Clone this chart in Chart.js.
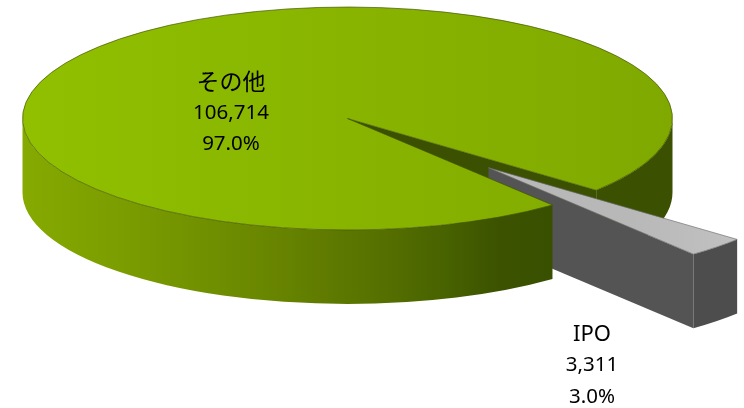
<!DOCTYPE html>
<html lang="ja">
<head>
<meta charset="utf-8">
<title>その他 / IPO</title>
<style>
  html, body { margin: 0; padding: 0; background: #fff; overflow: hidden; }
  canvas { display: block; }
</style>
<script src="https://cdn.jsdelivr.net/npm/chart.js@4"></script>
</head>
<body>
<canvas id="pie" width="744" height="408"></canvas>
<script>
// Data
const categories = ['その他', 'IPO'];
const amounts = [106714, 3311];
const amountLabels = ['106,714', '3,311'];
const shareLabels = ['97.0%', '3.0%'];

// Tilted-disc view
const CENTER_Y = 118.5;
const RADIUS = 325;
const TILT = 0.343;
const DEPTH = 74;
const EXPLODE = 201;
const ROTATION = 140.9;

const canvas = document.getElementById('pie');
const g = canvas.getContext('2d');

function hGradient(x0, x1, stops) {
  const grad = g.createLinearGradient(x0, 0, x1, 0);
  stops.forEach(([p, c]) => grad.addColorStop(p, c));
  return grad;
}

const greenTop = hGradient(22, 673, [[0, '#90c000'], [0.5, '#88b400'], [1, '#80a900']]);
const greenWall = hGradient(22, 553, [
  [0, '#86aa00'], [0.2, '#7a9c00'], [0.45, '#6a8700'],
  [0.66, '#587200'], [0.8, '#476200'], [0.9, '#3c5200'], [1, '#385000']
]);
const greenDark = '#3b5000';
const greyTop = hGradient(489, 739, [[0, '#b8b8b8'], [1, '#cdcdcd']]);
const greyRadial = '#545454';
const greyOuter = '#4d4d4d';

// Side band of the disc between two angles, shifted by (dx, dy)
function band(ctx, el, a0, a1, dx, dy, fill) {
  const cx = el.x + dx, cy = CENTER_Y + dy, r = el.outerRadius;
  ctx.beginPath();
  ctx.ellipse(cx, cy, r, r * TILT, 0, a0, a1);
  ctx.ellipse(cx, cy + DEPTH, r, r * TILT, 0, a1, a0, true);
  ctx.closePath();
  ctx.fillStyle = fill;
  ctx.fill();
}

// Vertical face running from the centre to the rim along one angle
function radialWall(ctx, el, a, dx, dy, fill) {
  const cx = el.x + dx, cy = CENTER_Y + dy, r = el.outerRadius;
  const ex = cx + r * Math.cos(a), ey = cy + r * TILT * Math.sin(a);
  ctx.beginPath();
  ctx.moveTo(cx, cy);
  ctx.lineTo(ex, ey);
  ctx.lineTo(ex, ey + DEPTH);
  ctx.lineTo(cx, cy + DEPTH);
  ctx.closePath();
  ctx.fillStyle = fill;
  ctx.fill();
}

// Top face: the library's arc element, squashed onto the tilted plane
function topFace(ctx, el, dx, dy) {
  ctx.save();
  ctx.translate(dx, CENTER_Y + dy);
  ctx.scale(1, TILT);
  ctx.translate(0, -el.y);
  el.draw(ctx);
  ctx.restore();
}

const tiltedDisc = {
  id: 'tiltedDisc',
  beforeDatasetDraw(chart) {
    const ctx = chart.ctx;
    const [main, slice] = chart.getDatasetMeta(0).data;
    const TAU = Math.PI * 2;
    const mainEnd = main.endAngle % TAU;
    const mid = (slice.startAngle + slice.endAngle) / 2;
    const dx = Math.cos(mid) * EXPLODE;
    const dy = Math.sin(mid) * EXPLODE * TILT;

    // Rear of the main disc: right-hand rim and the notch face
    band(ctx, main, 0, mainEnd, 0, 0, greenDark);
    radialWall(ctx, main, mainEnd, 0, 0, greenDark);

    // Pulled-out slice
    radialWall(ctx, slice, (slice.endAngle) % TAU, dx, dy, greyRadial);
    band(ctx, slice, slice.startAngle % TAU, slice.endAngle % TAU, dx, dy, greyOuter);
    topFace(ctx, slice, dx, dy);

    // Front of the main disc sits over the slice's inner end
    band(ctx, main, main.startAngle % TAU, Math.PI, 0, 0, greenWall);
    topFace(ctx, main, 0, 0);

    return false;
  },
  afterDatasetsDraw(chart) {
    const ctx = chart.ctx;
    ctx.save();
    ctx.fillStyle = '#000';
    ctx.textAlign = 'center';
    ctx.textBaseline = 'middle';
    ctx.font = '23px "Noto Sans CJK JP"';
    ctx.fillText(categories[0], 231, 81);
    ctx.font = '20.5px "Noto Sans"';
    ctx.fillText(amountLabels[0], 231, 113);
    ctx.fillText(shareLabels[0], 231, 144);
    ctx.fillText(amountLabels[1], 592, 365);
    ctx.fillText(shareLabels[1], 592, 397);
    ctx.font = '22px "Noto Sans"';
    ctx.fillText(categories[1], 592, 335);
    ctx.restore();
  }
};

new Chart(g, {
  type: 'pie',
  data: {
    labels: categories,
    datasets: [{
      data: amounts,
      backgroundColor: [greenTop, greyTop],
      borderColor: ['#3f5200', '#6a6a6a'],
      borderWidth: 1
    }]
  },
  options: {
    responsive: false,
    animation: false,
    rotation: ROTATION,
    radius: RADIUS,
    layout: { padding: { right: 49 } },
    events: [],
    plugins: { legend: { display: false }, tooltip: { enabled: false } }
  },
  plugins: [tiltedDisc]
});
</script>
</body>
</html>
